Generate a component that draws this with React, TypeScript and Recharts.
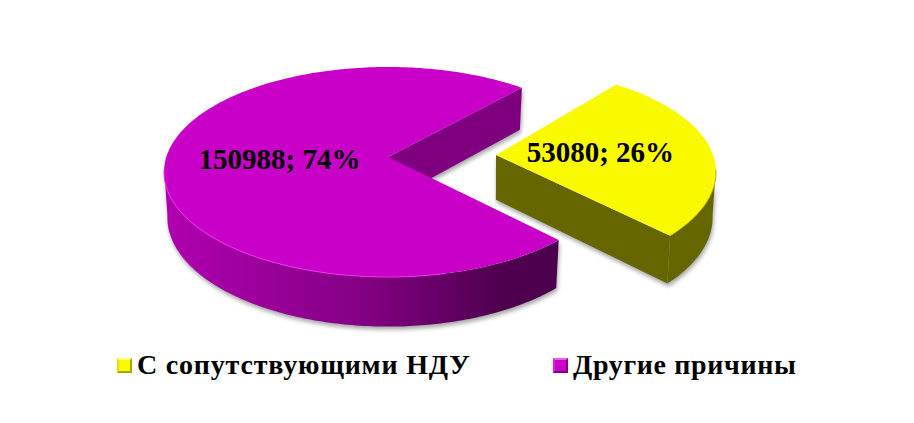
import React from "react";
import { PieChart, Pie, Legend } from "recharts";

const NAMES = ["С сопутствующими НДУ", "Другие причины"];
const VALUES = [53080, 150988];
const TOP_COLORS = ["#f9f900", "#c800c8"];

// layout of the exploded, tilted drawing (perspective corrections per slice)
const W = 914, H = 423;
const CX = 440, CY = 172, RX = 224, RY = 105;
const EXPLODE_X = [52, -52];
const APEX = [[4, -17], [0, -15]];
const ANGLE_SKEW = [0.5, -2.5];
const LABEL_DY = [-12, -21];
const SERIF = "'Liberation Serif', 'Times New Roman', serif";

const data = NAMES.map((name, i) => ({ name, value: VALUES[i], fill: TOP_COLORS[i] }));

const rad = (d: number) => (d * Math.PI) / 180;
const depth = (y: number) => 38.5 + 0.04 * y;

function Slice3D(props: any) {
  const i = NAMES.indexOf(props.name);
  const cx = props.cx + EXPLODE_X[i];
  const cy = props.cy;
  const rx = props.outerRadius;
  const ry = (rx * RY) / RX;
  const a0 = props.startAngle + ANGLE_SKEW[i];
  const a1 = props.endAngle + ANGLE_SKEW[i];
  const pt = (a: number) => [cx + rx * Math.cos(rad(a)), cy - ry * Math.sin(rad(a))];
  const down = (p: number[]) => [cx + (p[0] - cx) * 0.985, p[1] + depth(p[1])];
  const apex = [cx + APEX[i][0], cy + APEX[i][1]];
  const arc: number[][] = [];
  const step = a1 < a0 ? -1 : 1;
  for (let a = a0; step * (a - a1) < 0; a += step) arc.push(pt(a));
  arc.push(pt(a1));
  const front: number[][] = [];
  arc.forEach((p, k) => {
    const a = a0 + k * step;
    if (Math.sin(rad(a)) <= 0.03 || k === arc.length - 1 && Math.sin(rad(a1)) <= 0) front.push(p);
  });
  const str = (ps: number[][]) => ps.map((p) => `${p[0].toFixed(1)},${p[1].toFixed(1)}`).join(" ");
  const wall = [...front, ...front.slice().reverse().map(down)];
  const innerEdge = arc[arc.length - 1];
  const inner = [apex, innerEdge, down(innerEdge), down(apex)];
  const gid = `wall-${i}`;
  const bevelPts = i === 1 ? front.filter((p) => p[0] < cx + 60) : front;
  return (
    <g>
      <defs>
        <linearGradient id={gid} gradientUnits="userSpaceOnUse" x1={front.length ? Math.min(...front.map((p) => p[0])) : 0} x2={front.length ? Math.max(...front.map((p) => p[0])) : 1} y1="0" y2="0">
          {i === 1 ? (
            <>
              <stop offset="0" stopColor="#b000b0" />
              <stop offset="0.5" stopColor="#840084" />
              <stop offset="0.85" stopColor="#4f004f" />
              <stop offset="1" stopColor="#4c004c" />
            </>
          ) : (
            <>
              <stop offset="0" stopColor="#666600" />
              <stop offset="1" stopColor="#666600" />
            </>
          )}
        </linearGradient>
      </defs>
      <g style={{ filter: "drop-shadow(1px 3px 2px rgba(0,0,0,0.35))" }}>
        <polygon points={str(inner)} fill={i === 1 ? "#7f007f" : "#666600"} />
        <polygon points={str(wall)} fill={`url(#${gid})`} />
      </g>
      <polygon points={str([apex, ...arc])} fill={props.fill} />
      <polyline points={str(bevelPts)} fill="none" stroke={i === 1 ? "#f030f0" : "#b8b800"} strokeWidth={1} />
    </g>
  );
}

function SliceLabel(props: any) {
  const i = NAMES.indexOf(props.name);
  const r = 0.49 * props.outerRadius;
  const x = props.cx + EXPLODE_X[i] + r * Math.cos(rad(props.midAngle));
  const y = props.cy - (r * RY * Math.sin(rad(props.midAngle))) / RX + LABEL_DY[i];
  return (
    <text x={x} y={y} textAnchor="middle" dominantBaseline="central" fontFamily={SERIF} fontWeight="bold" fontSize={29} fill="#000">
      {`${props.value}; ${Math.round(props.percent * 100)}%`}
    </text>
  );
}

function LegendRow(props: any) {
  const items = props.payload || [];
  return (
    <div style={{ display: "flex", position: "relative", height: 30, fontFamily: SERIF, fontWeight: "bold", fontSize: 28, color: "#000", whiteSpace: "nowrap" }}>
      {items.map((it: any, k: number) => (
        <div key={k} style={{ position: "absolute", left: k === 0 ? 117 : 553, top: 0, display: "flex", alignItems: "center", height: 30 }}>
          <span
            style={{
              display: "inline-block", width: 11, height: 11, marginRight: 5,
              background: it.color,
              border: `2px solid ${k === 0 ? "#a6a600" : "#800080"}`,
              borderTopColor: k === 0 ? "#ffff80" : "#f060f0",
              borderLeftColor: k === 0 ? "#e0e000" : "#e020e0",
            }}
          />
          <span style={{ letterSpacing: k === 0 ? 0.8 : 0.65 }}>{it.value}</span>
        </div>
      ))}
    </div>
  );
}

export default function App() {
  return (
    <div style={{ position: "absolute", left: 0, top: 0, width: W, height: H, background: "#fff" }}>
      <PieChart width={W} height={H} margin={{ top: 0, right: 0, bottom: 0, left: 0 }}>
        <Pie
          data={data}
          dataKey="value"
          nameKey="name"
          cx={CX}
          cy={CY}
          innerRadius={0}
          outerRadius={RX}
          startAngle={55.8}
          endAngle={-304.2}
          stroke="none"
          isAnimationActive={false}
          shape={Slice3D}
          labelLine={false}
          label={SliceLabel}
        />
        <Legend content={LegendRow} itemSorter={null} layout="horizontal" verticalAlign="bottom" wrapperStyle={{ position: "absolute", left: 0, top: 350, bottom: "auto", width: W, height: 30 }} />
      </PieChart>
    </div>
  );
}
